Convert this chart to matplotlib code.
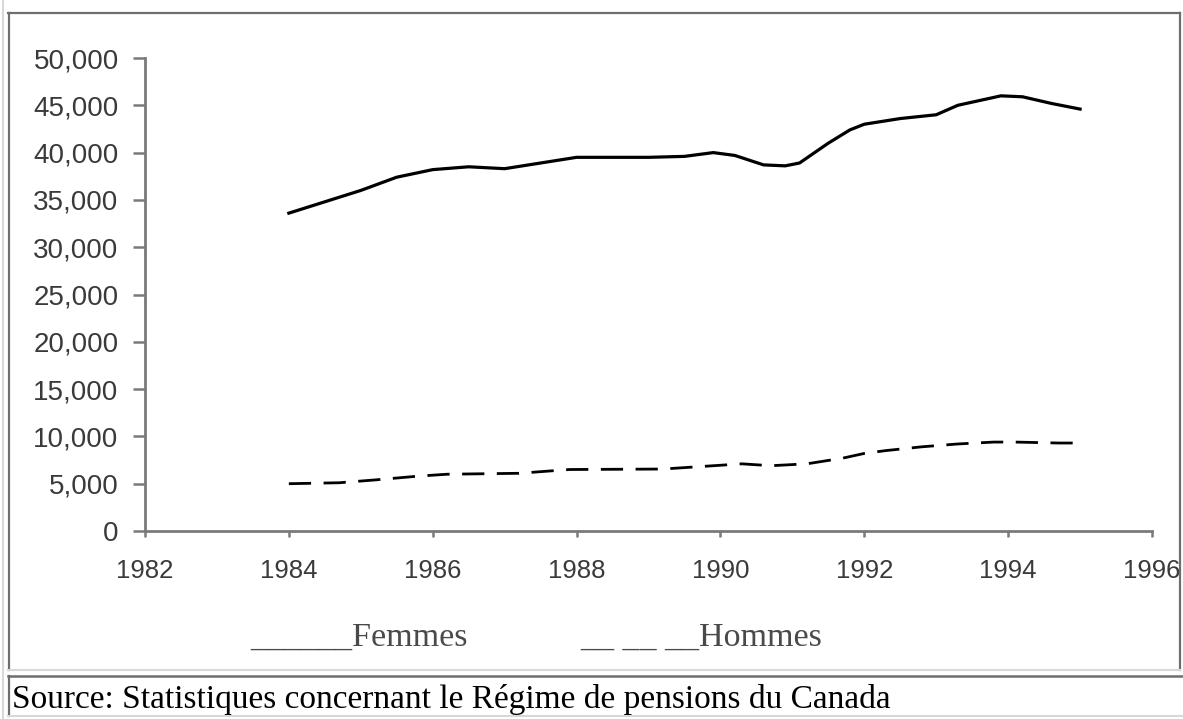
import matplotlib
matplotlib.use("Agg")
import matplotlib.pyplot as plt
from matplotlib.lines import Line2D

# ---- data ----
femmes_years = [1984.0, 1984.5, 1985.0, 1985.5, 1986.0, 1986.5, 1987.0, 1987.5,
                1988.0, 1988.5, 1989.0, 1989.5, 1989.9, 1990.2, 1990.6, 1990.9,
                1991.1, 1991.5, 1991.8, 1992.0, 1992.5, 1993.0, 1993.3, 1993.9,
                1994.2, 1994.6, 1995.0]
femmes = [33600, 34800, 36000, 37400, 38200, 38500, 38300, 38900,
          39500, 39500, 39500, 39600, 40000, 39700, 38700, 38600,
          38900, 41000, 42400, 43000, 43600, 44000, 45000, 46000,
          45900, 45200, 44600]

hommes_years = [1984.0, 1984.7, 1985.2, 1985.8, 1986.2, 1987.2, 1987.9, 1989.2,
                1989.7, 1990.3, 1990.7, 1991.2, 1991.7, 1992.0, 1992.3, 1992.8,
                1993.3, 1993.8, 1994.1, 1994.7, 1995.0]
hommes = [5000, 5100, 5400, 5800, 6000, 6100, 6500, 6550,
          6800, 7100, 6900, 7100, 7700, 8200, 8500, 8900,
          9200, 9400, 9400, 9300, 9300]

x_ticks = [1982, 1984, 1986, 1988, 1990, 1992, 1994, 1996]
y_ticks = [0, 5000, 10000, 15000, 20000, 25000, 30000, 35000, 40000, 45000, 50000]
y_tick_labels = ["0", "5,000", "10,000", "15,000", "20,000", "25,000",
                 "30,000", "35,000", "40,000", "45,000", "50,000"]
legend_labels = ["______Femmes", "__ __ __Hommes"]
source_text = "Source: Statistiques concernant le Régime de pensions du Canada"

W, H = 1183, 719
fig = plt.figure(figsize=(W / 100, H / 100), dpi=100)
fig.patch.set_facecolor("white")

def fx(px):
    return px / W

def fy(py):
    return 1 - py / H

ax = fig.add_axes([fx(145), fy(531), fx(1152) - fx(145), fy(58) - fy(531)])
ax.plot(femmes_years, femmes, color="black", lw=2.3, solid_joinstyle="round")
ax.plot(hommes_years, hommes, color="black", lw=2.0, linestyle=(0, (8, 4.5)))

ax.set_xlim(1982, 1996)
ax.set_ylim(0, 50000)
ax.set_xticks(x_ticks)
ax.set_xticklabels([str(v) for v in x_ticks])
ax.set_yticks(y_ticks)
ax.set_yticklabels(y_tick_labels)

spine_col = "#7a7a7a"
for s in ["top", "right"]:
    ax.spines[s].set_visible(False)
for s in ["left", "bottom"]:
    ax.spines[s].set_color(spine_col)
    ax.spines[s].set_linewidth(2.0)

ax.tick_params(axis="y", direction="out", length=9, width=1.8, color=spine_col,
               pad=10, labelcolor="#3a3a3a", labelsize=20)
ax.tick_params(axis="x", direction="out", length=4, width=1.8, color=spine_col,
               pad=16, labelcolor="#3a3a3a", labelsize=18.5)
for lab in ax.get_xticklabels() + ax.get_yticklabels():
    lab.set_fontfamily(["Liberation Sans", "DejaVu Sans"])
ax.set_facecolor("white")

# ---- frames ----
def hline(y, x0, x1, color, lw):
    fig.add_artist(Line2D([fx(x0), fx(x1)], [fy(y), fy(y)], color=color, lw=lw,
                          transform=fig.transFigure))

def vline(x, y0, y1, color, lw):
    fig.add_artist(Line2D([fx(x), fx(x)], [fy(y0), fy(y1)], color=color, lw=lw,
                          transform=fig.transFigure))

dark = "#6e6e6e"
light = "#d8d8d8"
vline(3, 0, H, light, 1.5)
# chart box
hline(13, 8, 1180, dark, 1.6)
vline(8.5, 13, 670, dark, 1.6)
vline(1180, 13, 670, dark, 1.6)
hline(670, 8, 1180, light, 1.5)
# source box
hline(676, 8, W, dark, 1.8)
vline(8.5, 676, 716, dark, 1.6)
hline(716, 8, W, light, 1.5)

# ---- legend (typed text) ----
serif = ["Liberation Serif", "DejaVu Serif"]
fig.text(fx(250), fy(646), legend_labels[0], family=serif, size=24.5,
         color="#4a4a4a", ha="left", va="baseline")
fig.text(fx(580), fy(646), legend_labels[1], family=serif, size=24.5,
         color="#4a4a4a", ha="left", va="baseline")

# ---- source ----
fig.text(fx(12), fy(708), source_text, family=serif, size=24, color="black",
         ha="left", va="baseline")

fig.savefig("out.png", dpi=100, facecolor="white")
